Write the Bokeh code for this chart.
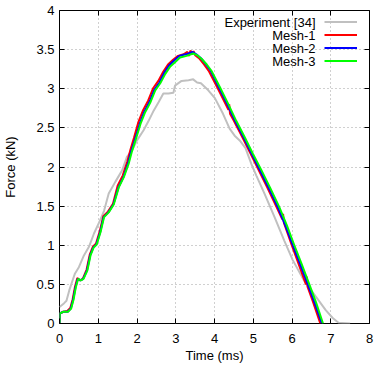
from bokeh.plotting import figure
from bokeh.models import Range1d, FixedTicker, LinearAxis, Legend, LegendItem, Label
from bokeh.embed import file_html
from bokeh.resources import INLINE

FONT = "Liberation Sans"

# ---- data ----
x_ticks = [0, 1, 2, 3, 4, 5, 6, 7, 8]
x_tick_labels = ["0", "1", "2", "3", "4", "5", "6", "7", "8"]
y_ticks = [0, 0.5, 1, 1.5, 2, 2.5, 3, 3.5, 4]
y_tick_labels = ["0", "0.5", "1", "1.5", "2", "2.5", "3", "3.5", "4"]

series_names = ["Experiment [34]", "Mesh-1", "Mesh-2", "Mesh-3"]
series_colors = ["#c0c0c0", "#ff0000", "#0000ff", "#00ff00"]

time_exp = [0.0, 0.12, 0.18, 0.25, 0.33, 0.40, 0.50, 0.63, 0.76, 0.89,
            1.02, 1.15, 1.27, 1.44, 1.62, 1.74, 1.87, 2.00, 2.17, 2.30,
            2.43, 2.56, 2.68, 2.81, 2.94, 2.98, 3.15, 3.33, 3.45, 3.55,
            3.65, 3.84, 4.01, 4.22, 4.39, 4.52, 4.65, 4.80, 4.95, 5.08,
            5.29, 5.55, 5.80, 6.02, 6.31, 6.62, 6.87, 7.05, 7.20, 7.50]
force_exp = [0.21, 0.26, 0.29, 0.42, 0.54, 0.64, 0.72, 0.87, 0.98, 1.15,
             1.29, 1.44, 1.66, 1.81, 1.96, 2.13, 2.21, 2.34, 2.47, 2.59,
             2.72, 2.83, 2.94, 2.94, 2.95, 3.04, 3.10, 3.11, 3.12, 3.08,
             3.07, 2.98, 2.88, 2.68, 2.49, 2.40, 2.34, 2.24, 2.04, 1.89,
             1.66, 1.36, 1.06, 0.81, 0.55, 0.34, 0.17, 0.07, 0.01, 0.0]

time_m1 = [0.0, 0.01, 0.10, 0.20, 0.28, 0.34, 0.40, 0.46, 0.53, 0.60,
           0.70, 0.78, 0.86, 0.94, 1.04, 1.13, 1.25, 1.38, 1.50, 1.63,
           1.75, 1.83, 1.92, 2.04, 2.16, 2.29, 2.42, 2.55, 2.68, 2.80,
           2.93, 3.06, 3.20, 3.30, 3.34, 3.38, 3.42, 3.46, 3.50, 3.60,
           3.73, 3.86, 4.07, 4.28, 4.36, 4.38, 4.40, 4.49, 4.71, 4.92,
           5.13, 5.36, 5.59, 5.75, 5.77, 5.79, 5.98, 6.17, 6.36, 6.38,
           6.40, 6.54, 6.73]
force_m1 = [0.0, 0.13, 0.15, 0.16, 0.20, 0.31, 0.47, 0.58, 0.55, 0.57,
            0.69, 0.88, 0.98, 1.02, 1.18, 1.37, 1.43, 1.53, 1.76, 1.89,
            2.07, 2.22, 2.37, 2.58, 2.73, 2.85, 3.01, 3.10, 3.22, 3.31,
            3.37, 3.42, 3.44, 3.47, 3.42, 3.49, 3.44, 3.48, 3.43, 3.39,
            3.31, 3.22, 3.02, 2.81, 2.73, 2.80, 2.68, 2.60, 2.39, 2.18,
            1.97, 1.74, 1.50, 1.33, 1.40, 1.29, 1.02, 0.76, 0.50, 0.60,
            0.47, 0.28, 0.0]

time_m2 = [0.0, 0.01, 0.10, 0.21, 0.29, 0.35, 0.41, 0.47, 0.54, 0.61,
           0.71, 0.79, 0.87, 0.95, 1.05, 1.14, 1.26, 1.39, 1.52, 1.65,
           1.77, 1.85, 1.94, 2.07, 2.19, 2.32, 2.45, 2.58, 2.71, 2.83,
           2.96, 3.09, 3.26, 3.43, 3.53, 3.65, 3.78, 3.90, 4.11, 4.32,
           4.53, 4.75, 4.96, 5.17, 5.40, 5.63, 5.83, 6.02, 6.21, 6.40,
           6.58, 6.77]
force_m2 = [0.0, 0.13, 0.15, 0.15, 0.19, 0.30, 0.46, 0.57, 0.55, 0.57,
            0.68, 0.87, 0.97, 1.01, 1.17, 1.36, 1.42, 1.52, 1.74, 1.87,
            2.05, 2.20, 2.34, 2.55, 2.71, 2.83, 2.99, 3.08, 3.21, 3.30,
            3.36, 3.42, 3.44, 3.47, 3.44, 3.39, 3.31, 3.23, 3.02, 2.81,
            2.59, 2.38, 2.17, 1.96, 1.73, 1.49, 1.25, 1.00, 0.76, 0.51,
            0.27, 0.0]

time_m3 = [0.0, 0.01, 0.10, 0.22, 0.30, 0.36, 0.42, 0.48, 0.55, 0.62,
           0.72, 0.80, 0.88, 0.96, 1.06, 1.15, 1.27, 1.40, 1.53, 1.66,
           1.79, 1.87, 1.96, 2.09, 2.21, 2.34, 2.47, 2.60, 2.73, 2.85,
           2.98, 3.11, 3.28, 3.45, 3.55, 3.67, 3.80, 3.92, 4.14, 4.35,
           4.56, 4.78, 4.99, 5.21, 5.44, 5.67, 5.87, 6.06, 6.25, 6.44,
           6.62, 6.80]
force_m3 = [0.0, 0.13, 0.15, 0.15, 0.19, 0.30, 0.46, 0.57, 0.55, 0.57,
            0.68, 0.87, 0.97, 1.01, 1.17, 1.36, 1.42, 1.52, 1.74, 1.87,
            2.05, 2.20, 2.34, 2.55, 2.70, 2.82, 2.98, 3.07, 3.19, 3.28,
            3.34, 3.40, 3.42, 3.45, 3.43, 3.38, 3.31, 3.23, 3.02, 2.81,
            2.59, 2.38, 2.17, 1.96, 1.73, 1.49, 1.25, 1.00, 0.76, 0.51,
            0.27, 0.0]

series_t = [time_exp, time_m1, time_m2, time_m3]
series_f = [force_exp, force_m1, force_m2, force_m3]

# ---- figure ----
p = figure(width=382, height=365,
           x_range=Range1d(x_ticks[0], x_ticks[-1]),
           y_range=Range1d(y_ticks[0], y_ticks[-1]),
           output_backend="svg", toolbar_location=None,
           min_border_left=57, min_border_right=13,
           min_border_top=10, min_border_bottom=42,
           x_axis_label="Time (ms)", y_axis_label="Force (kN)")
p.background_fill_color = "white"
p.border_fill_color = "white"
p.outline_line_color = "black"
p.outline_line_width = 1
p.outline_line_alpha = 1

p.xaxis.ticker = FixedTicker(ticks=x_ticks)
p.yaxis.ticker = FixedTicker(ticks=y_ticks)
p.xaxis.major_label_overrides = {t: s for t, s in zip(x_ticks, x_tick_labels)}
p.yaxis.major_label_overrides = {t: s for t, s in zip(y_ticks, y_tick_labels)}

for ax in (p.xaxis[0], p.yaxis[0]):
    ax.axis_line_color = None
    ax.major_tick_in = 5
    ax.major_tick_out = 0
    ax.major_tick_line_color = "black"
    ax.minor_tick_line_color = None
    ax.major_label_text_font = FONT
    ax.major_label_text_font_size = "13px"
    ax.major_label_text_color = "black"
    ax.axis_label_text_font = FONT
    ax.axis_label_text_font_size = "13px"
    ax.axis_label_text_font_style = "normal"
    ax.axis_label_text_color = "black"

p.xaxis.major_label_standoff = 10
p.xaxis.axis_label_standoff = 2
p.yaxis.major_label_standoff = 5
p.yaxis.axis_label_standoff = 15

# mirrored ticks on top and right
for loc, ticks in (("above", x_ticks), ("right", y_ticks)):
    mirror = LinearAxis(ticker=FixedTicker(ticks=ticks),
                        major_label_overrides={t: "" for t in ticks},
                        major_label_text_font_size="0px",
                        major_label_standoff=0,
                        major_tick_in=5, major_tick_out=0,
                        major_tick_line_color="black",
                        minor_tick_line_color=None,
                        axis_line_color=None)
    p.add_layout(mirror, loc)

p.xgrid.ticker = FixedTicker(ticks=x_ticks)
p.ygrid.ticker = FixedTicker(ticks=y_ticks)
p.grid.grid_line_color = "#a0a0a0"
p.grid.grid_line_dash = "1 3"
p.grid.grid_line_width = 1

renderers = []
for t, f, c in zip(series_t, series_f, series_colors):
    renderers.append(p.line(t, f, line_color=c, line_width=2))

legend = Legend(items=[LegendItem(label="", renderers=[r]) for r in renderers],
                location=(265, 256), orientation="vertical",
                glyph_width=33, glyph_height=13, label_width=0, label_height=13,
                label_standoff=0, spacing=0, padding=0, margin=0,
                label_text_font_size="1px",
                background_fill_alpha=0, border_line_color=None)
p.add_layout(legend)

for i, name in enumerate(series_names):
    p.add_layout(Label(x=256, y=301.5 - 13 * i, x_units="screen", y_units="screen",
                       text=name, text_align="right", text_baseline="middle",
                       text_font=FONT, text_font_size="13px", text_color="black"))

open("out.html", "w").write(file_html(p, INLINE))
